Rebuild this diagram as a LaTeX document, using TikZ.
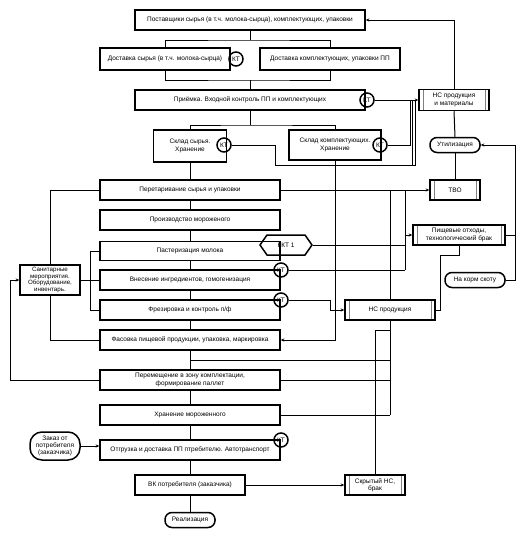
\documentclass[tikz,border=0pt]{standalone}
\usepackage{fontspec}
\setmainfont{Liberation Sans}
\usetikzlibrary{arrows.meta,shapes.symbols}
\begin{document}
\begin{tikzpicture}[x=1pt,y=-1pt,
  every node/.style={font=\fontsize{6.5}{7.3}\selectfont, align=center, inner sep=1pt},
  box/.style={draw, line width=1.5pt, minimum width=#1, minimum height=20pt},
  box/.default=180pt,
  proc/.style={box=#1, path picture={\draw[line width=0.8pt, gray]
     ([xshift=4pt]path picture bounding box.north west) -- ([xshift=4pt]path picture bounding box.south west)
     ([xshift=-4pt]path picture bounding box.north east) -- ([xshift=-4pt]path picture bounding box.south east);}},
  ktc/.style={circle, draw, line width=1.5pt, minimum size=14pt, inner sep=0pt},
  term/.style={draw, line width=1.5pt, rounded corners=7pt, minimum width=#1, minimum height=15pt},
  ln/.style={line width=1pt},
  arr/.style={ln, -{Stealth[length=3.5pt,width=3pt]}}
]
\useasboundingbox (0,0) rectangle (525,538);
% main column
\node[box=230pt] (sup) at (250,20) {Поставщики сырья (в т.ч. молока-сырца), комплектующих, упаковки};
\node[box=130pt, minimum height=22pt, inner sep=0pt] (dsyr) at (165,59) {Доставка сырья (в т.ч. молока-сырца)};
\node[ktc] (ktA) at (236,59) {КТ};
\node[box=140pt, minimum height=22pt, inner sep=0pt] (dkom) at (330,59) {Доставка комплектующих, упаковки ПП};
\node[box=230pt] (prm) at (250,100) {Приёмка. Входной контроль ПП и комплектующих};
\node[ktc] (ktB) at (367,100) {КТ};
\node[box=73pt, minimum height=32pt] (sks) at (190,146) {Склад сырья.\\Хранение};
\node[ktc] (ktC) at (224,145) {КТ};
\node[box=92pt, minimum height=30pt, inner sep=0pt] (skk) at (335,145) {Склад комплектующих.\\Хранение};
\node[ktc] (ktD) at (380,145) {КТ};
\node[box] (per) at (190,190) {Перетаривание сырья и упаковки};
\node[box] (pro) at (190,220) {Производство мороженого};
\node[box, minimum height=19pt] (pas) at (190,251) {Пастеризация молока};
\node[signal, signal to=west and east, signal pointer angle=110, draw, line width=1.5pt, minimum width=52pt, minimum height=20pt] (hex) at (286,245) {ККТ 1};
\node[box] (vne) at (190,280) {Внесение ингредиентов, гомогенизация};
\node[ktc] (ktE) at (281,270) {КТ};
\node[box] (fre) at (190,310) {Фрезировка и контроль п/ф};
\node[ktc] (ktF) at (281,300) {КТ};
\node[box] (fas) at (190,340) {Фасовка пищевой продукции, упаковка, маркировка};
\node[box] (pem) at (190,380) {Перемещение в зону комплектации,\\формирование паллет};
\node[box] (hra) at (190,415) {Хранение мороженного};
\node[box, inner sep=0pt] (otg) at (190,450) {Отгрузка и доставка ПП птребителю. Автотранспорт};
\node[ktc] (ktG) at (281,440) {КТ};
\node[box=110pt] (vk) at (190,485) {ВК потребителя (заказчика)};
\node[term=50pt] (real) at (190,520) {Реализация};
\node[term=50pt, minimum height=28pt, rounded corners=12pt, inner sep=0pt] (zak) at (55,446) {Заказ от\\потребителя\\(заказчика)};
\node[box=60pt, minimum height=30pt, inner sep=0pt, font=\fontsize{6.2}{6.8}\selectfont] (san) at (50,280) {Санитарные\\мероприятия.\\Оборудование,\\инвентарь.};
% right side
\node[proc=70pt, minimum height=21pt] (nsm) at (454,100) {НС продукция\\и материалы};
\node[term=50pt] (uti) at (455,145) {Утилизация};
\node[proc=50pt] (tbo) at (455,190) {ТВО};
\node[proc=92pt] (pish) at (459,235) {Пищевые отходы,\\технологический брак};
\node[term=60pt] (korm) at (475,280) {На корм скоту};
\node[proc=90pt] (nsp) at (390,310) {НС продукция};
\node[proc=60pt] (skr) at (375,485) {Скрытый НС,\\брак};
% connectors: top
\coordinate (j1) at (250,40);
\coordinate (j2) at (250,80);
\coordinate (j3) at (250,125);
\draw[ln] (sup) -- (j1);
\draw[ln] (dsyr.north) |- (j1) -| (dkom.north);
\draw[ln] (dsyr.south) |- (j2) -| (dkom.south);
\draw[ln] (j2) -- (prm.north);
\draw[ln] (prm.south) -- (j3);
\draw[ln] (sks.north) |- (j3) -| (skk.north);
\draw[arr] (ktB.east) -- (nsm.west);
\draw[arr] (nsm.north) |- (sup.east);
\draw[ln] (nsm.south) -- (uti.north);
\draw[ln] (uti.south) -- (tbo.north);
% KT routes
\coordinate (c1) at (275,165);
\coordinate (c2) at (415,165);
\coordinate (c3) at (415,100);
\coordinate (c4) at (410,100);
\coordinate (c5) at (412,165);
\coordinate (c6) at (412,100);
\draw[ln] (ktC.east) -| (c1) -- (c2) -- (c3);
\draw[ln] (ktD.east) -| (c4);
\draw[ln] (c5) -- (c6);
% main column
\draw[ln] (sks.south) -- (per.north);
\draw[ln] (per.south) -- (pro.north);
\draw[ln] (pro.south) -- (pas.north);
\draw[ln] (pas.south) -- (vne.north);
\draw[ln] (vne.south) -- (fre.north);
\draw[ln] (fre.south) -- (fas.north);
\draw[ln] (fas.south) -- (pem.north);
\draw[ln] (pem.south) -- (hra.north);
\draw[ln] (hra.south) -- (otg.north);
\draw[ln] (otg.south) -- (vk.north);
\draw[ln] (vk.south) -- (real.north);
\draw[arr] (per.east) -- (tbo.west);
\draw[arr] (skk.south) |- (fas.east);
% middle verticals
\coordinate (v1) at (390,190);
\coordinate (v2) at (405,190);
\coordinate (v3) at (405,235);
\coordinate (v4) at (405,245);
\coordinate (v5) at (405,270);
\draw[ln] (v1) -- (nsp.north);
\draw[ln] (v2) -- (v5);
\draw[ln] (hex.east) -- (v4);
\draw[ln] (ktE.east) -- (v5);
\draw[arr] (v3) -- (pish.west);
\coordinate (f1) at (330,300);
\draw[arr] (ktF.east) -- (f1) |- (nsp.west);
\coordinate (n1) at (440,255);
\draw[ln] (nsp.east) -| (n1) -| (pish.south);
\coordinate (r1) at (515,235);
\draw[ln] (pish.east) -- (r1);
\draw[arr] (r1) |- (uti.east);
\draw[ln] (r1) |- (korm.east);
% bottom right
\coordinate (b1) at (190,360);
\coordinate (b2) at (390,360);
\coordinate (b3) at (390,415);
\coordinate (b5) at (390,380);
\coordinate (b4) at (375,330);
\coordinate (b6) at (390,330);
\draw[ln] (b1) -- (b2);
\draw[ln] (nsp.south) -- (b3);
\draw[ln] (pem.east) -- (b5);
\draw[ln] (hra.east) -- (b3);
\draw[ln] (b6) -- (b4) -- (skr.north);
\draw[arr] (vk.east) -- (skr.west);
\draw[arr] (zak.east) -- (zak.east -| otg.west);
% left
\coordinate (s1) at (90,251);
\coordinate (s2) at (10,380);
\draw[ln] (san.north) |- (per.west);
\draw[ln] (pas.west) -| (s1) |- (fre.west);
\draw[ln] (san.east) -- (vne.west);
\draw[ln] (san.south) |- (fas.west);
\draw[arr] (pem.west) -- (s2) |- (san.west);
\end{tikzpicture}
\end{document}
